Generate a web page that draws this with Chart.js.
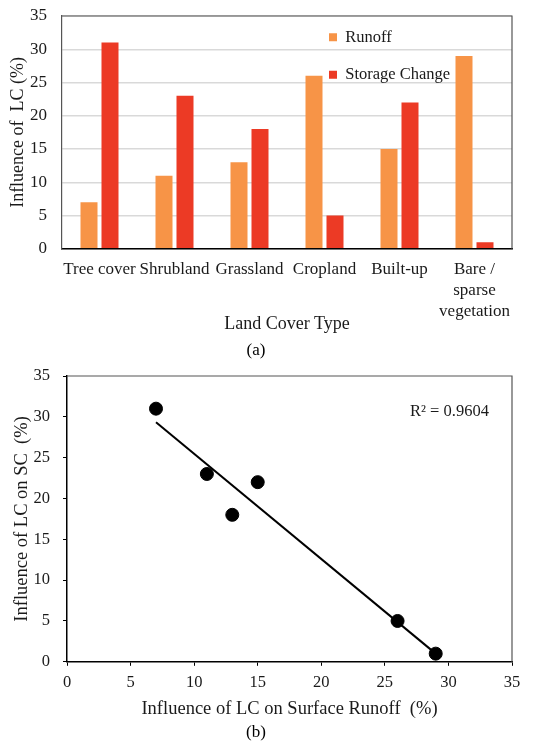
<!DOCTYPE html>
<html>
<head>
<meta charset="utf-8">
<script src="https://cdn.jsdelivr.net/npm/chart.js@4.4.1/dist/chart.umd.min.js"></script>
<style>
  html, body { margin: 0; padding: 0; background: #fff; }
  #wrapA { position: absolute; left: 0; top: 0; width: 545px; height: 365px; }
  #wrapB { position: absolute; left: 0; top: 365px; width: 545px; height: 382px; }
</style>
</head>
<body>
<div id="wrapA"><canvas id="barChart"></canvas></div>
<div id="wrapB"><canvas id="scatterChart"></canvas></div>
<script>
const landCovers = ['Tree cover', 'Shrubland', 'Grassland', 'Cropland', 'Built-up', ['Bare /', 'sparse', 'vegetation']];
const runoff = [7, 11, 13, 26, 15, 29];
const storageChange = [31, 23, 18, 5, 22, 1];
const axisMax = 35;
const axisStep = 5;

Chart.defaults.font.family = "'Liberation Serif', 'Times New Roman', serif";
Chart.defaults.font.size = 16;
Chart.defaults.color = '#1a1a1a';

// frame on top and right side of the plot area
const frame = {
  id: 'frame',
  afterDraw(chart) {
    const { ctx, chartArea: a } = chart;
    ctx.save();
    ctx.strokeStyle = '#555';
    ctx.lineWidth = 1.2;
    ctx.beginPath();
    ctx.moveTo(a.left, a.top);
    ctx.lineTo(a.right, a.top);
    ctx.lineTo(a.right, a.bottom);
    ctx.stroke();
    ctx.restore();
  }
};

// put the legend inside the plot, upper right
const moveLegend = {
  id: 'moveLegend',
  afterLayout(chart) {
    const lg = chart.legend;
    if (!lg) return;
    lg.left = 308;
    lg.top = 8;
  }
};

// fixed y axis width; tick padding should not push the plot down
const fixY = w => s => {
  s.width = w;
  s.paddingTop = 0;
  s.paddingBottom = 0;
};

new Chart(document.getElementById('barChart'), {
  type: 'bar',
  data: {
    labels: landCovers,
    datasets: [
      { label: 'Runoff', data: runoff, backgroundColor: '#f79447' },
      { label: 'Storage Change', data: storageChange, backgroundColor: '#ec3a25' }
    ]
  },
  options: {
    responsive: true,
    maintainAspectRatio: false,
    animation: false,
    categoryPercentage: 0.56,
    barPercentage: 0.81,
    layout: { padding: { top: 16, right: 33, left: 0, bottom: 0 } },
    scales: {
      x: {
        afterFit: s => { s.height = 89.8; },
        grid: { display: false, drawTicks: false },
        border: { color: '#000', width: 1.5 },
        ticks: { padding: 10, maxRotation: 0, autoSkip: false, font: { size: 17, lineHeight: 1.25 } },
        title: { display: true, text: 'Land Cover Type', padding: { top: 0, bottom: 4 }, font: { size: 18 } }
      },
      y: {
        min: 0,
        max: axisMax,
        afterFit: fixY(62),
        grid: { color: '#d9d9d9', lineWidth: 1.5, drawTicks: false },
        border: { color: '#555', width: 1.2 },
        ticks: { stepSize: axisStep, padding: 15, font: { size: 17 } },
        title: { display: true, text: 'Influence of  LC (%)', padding: { top: 7, bottom: 0 }, font: { size: 18 } }
      }
    },
    plugins: {
      legend: {
        position: 'chartArea',
        align: 'start',
        labels: { boxWidth: 8, boxHeight: 8, padding: 21, color: '#1a1a1a', font: { size: 16.5 } }
      },
      title: {
        display: true,
        position: 'bottom',
        text: '(a)',
        color: '#000',
        padding: { top: 2, bottom: 4 },
        font: { size: 17, weight: 'normal' }
      },
      tooltip: { enabled: false }
    }
  },
  plugins: [frame, moveLegend]
});

// least squares line through the scatter points
const pts = runoff.map((x, i) => ({ x, y: storageChange[i] }));
const n = pts.length;
const mx = runoff.reduce((a, b) => a + b, 0) / n;
const my = storageChange.reduce((a, b) => a + b, 0) / n;
let sxy = 0, sxx = 0, syy = 0;
pts.forEach(p => {
  sxy += (p.x - mx) * (p.y - my);
  sxx += (p.x - mx) ** 2;
  syy += (p.y - my) ** 2;
});
const slope = sxy / sxx;
const icept = my - slope * mx;
const r2 = (sxy * sxy) / (sxx * syy);
const xLo = Math.min(...runoff);
const xHi = Math.max(...runoff);
const trend = [{ x: xLo, y: icept + slope * xLo }, { x: xHi, y: icept + slope * xHi }];

const r2Label = {
  id: 'r2Label',
  afterDraw(chart) {
    const { ctx, chartArea: a } = chart;
    ctx.save();
    ctx.fillStyle = '#1a1a1a';
    ctx.font = "16.5px 'Liberation Serif', 'Times New Roman', serif";
    ctx.textAlign = 'left';
    ctx.textBaseline = 'middle';
    ctx.fillText('R² = ' + r2.toFixed(4), a.right - 102, a.top + 36);
    ctx.restore();
  }
};

const tickSide = { display: true, drawOnChartArea: false, drawTicks: true, tickLength: 4, color: '#000', lineWidth: 1 };

new Chart(document.getElementById('scatterChart'), {
  type: 'scatter',
  data: {
    datasets: [
      { label: 'points', data: pts, backgroundColor: '#000', borderColor: '#000', pointRadius: 6.5, order: 0 },
      { type: 'line', label: 'trend', data: trend, borderColor: '#000', borderWidth: 2, pointRadius: 0, fill: false, order: 1 }
    ]
  },
  options: {
    responsive: true,
    maintainAspectRatio: false,
    animation: false,
    layout: { padding: { top: 11, right: 33, left: 0, bottom: 0 } },
    scales: {
      x: {
        type: 'linear',
        min: 0,
        max: axisMax,
        afterFit: s => { s.height = 58.8; },
        grid: tickSide,
        border: { color: '#000', width: 1.5 },
        ticks: { stepSize: axisStep, padding: 7, font: { size: 16.5 } },
        title: { display: true, text: 'Influence of LC on Surface Runoff  (%)', padding: { top: 0, bottom: 0 }, font: { size: 18.5 } }
      },
      y: {
        min: 0,
        max: axisMax,
        afterFit: fixY(67),
        grid: tickSide,
        border: { color: '#000', width: 1.5 },
        ticks: { stepSize: axisStep, padding: 13, font: { size: 16.5 } },
        title: { display: true, text: 'Influence of LC on SC  (%)', padding: { top: 11, bottom: 0 }, font: { size: 18.5 } }
      }
    },
    plugins: {
      legend: { display: false },
      title: {
        display: true,
        position: 'bottom',
        text: '(b)',
        color: '#000',
        padding: { top: 2, bottom: 4 },
        font: { size: 17, weight: 'normal' }
      },
      tooltip: { enabled: false }
    }
  },
  plugins: [frame, r2Label]
});
</script>
</body>
</html>
